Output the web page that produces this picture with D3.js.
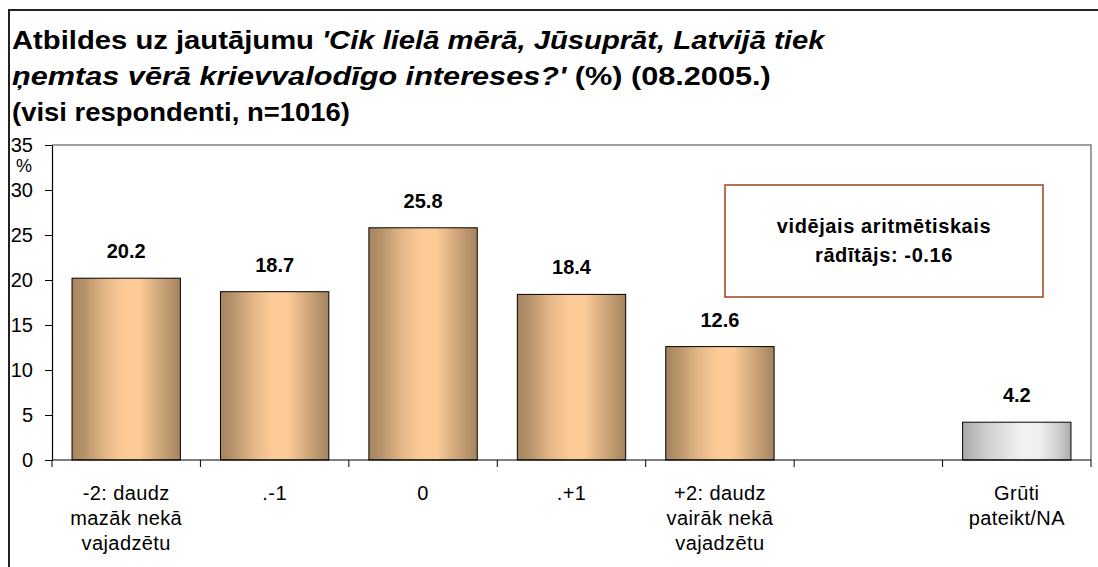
<!DOCTYPE html>
<html><head><meta charset="utf-8">
<script src="https://cdn.jsdelivr.net/npm/d3@7"></script>
<style>body{margin:0;background:#fff}svg{display:block}text{font-family:"Liberation Sans",Arial,sans-serif}</style>
</head><body><svg id="c" width="1098" height="567"></svg>
<script>
const categories = ["-2: daudz|mazāk nekā|vajadzētu", ".-1", "0", ".+1", "+2: daudz|vairāk nekā|vajadzētu", "", "Grūti|pateikt/NA"];
const values = [20.2, 18.7, 25.8, 18.4, 12.6, null, 4.2];
const barKinds = ["tan", "tan", "tan", "tan", "tan", null, "gray"];
const yTicks = [0, 5, 10, 15, 20, 25, 30, 35];
const titleLines = [
  [["Atbildes uz jautājumu ", false], ["'Cik lielā mērā, Jūsuprāt, Latvijā tiek", true]],
  [["ņemtas vērā krievvalodīgo intereses?'", true], [" (%) (08.2005.)", false]],
  [["(visi respondenti, n=1016)", false]]
];
const titleWidths = [814, 759, 338];
const noteLines = ["vidējais aritmētiskais", "rādītājs: -0.16"];

const svg = d3.select("#c");
const m = {left: 52, right: 1091, top: 145, bottom: 460};
const FONT = "Liberation Sans, Arial, sans-serif";

// outer chart border
svg.append("path").attr("d", `M9,567 V10 H1098`).attr("fill","none").attr("stroke","#222").attr("stroke-width",2);

// gradients
const defs = svg.append("defs");
const gT = defs.append("linearGradient").attr("id","gTan").attr("x1","0").attr("x2","1").attr("y1","0").attr("y2","0");
[[0,"#a5835d"],[0.12,"#b8946c"],[0.3,"#e3b687"],[0.48,"#fdcb98"],[0.62,"#fccb98"],[0.8,"#d1a87c"],[1,"#a5835d"]]
  .forEach(([o,c])=>gT.append("stop").attr("offset",o).attr("stop-color",c));
const gG = defs.append("linearGradient").attr("id","gGray").attr("x1","0").attr("x2","1").attr("y1","0").attr("y2","0");
[[0,"#a9a9a9"],[0.25,"#d2d2d2"],[0.55,"#f2f2f2"],[0.7,"#f0f0f0"],[0.88,"#cfcfcf"],[1,"#ababab"]]
  .forEach(([o,c])=>gG.append("stop").attr("offset",o).attr("stop-color",c));

const x = d3.scaleBand().domain(d3.range(categories.length)).range([m.left, m.right]).paddingInner(0.27).paddingOuter(0.135);
const xEdge = d3.scaleLinear().domain([0, categories.length]).range([m.left, m.right]);
const y = d3.scaleLinear().domain([0, 35]).range([m.bottom, m.top]);

// plot frame top/right
svg.append("path").attr("d", `M${m.left},${m.top} H${m.right} V${m.bottom}`).attr("fill","none").attr("stroke","#808080").attr("stroke-width",1.5);

// y axis
const yAxis = d3.axisLeft(y).tickValues(yTicks).tickSize(7).tickPadding(12).tickSizeOuter(0);
const gy = svg.append("g").attr("transform",`translate(${m.left},0)`).call(yAxis);
gy.select(".domain").attr("stroke","#000").attr("stroke-width",1.2);
gy.selectAll(".tick line").attr("stroke","#000");
gy.selectAll(".tick text").attr("font-size",20).attr("fill","#000").attr("font-family",FONT);
svg.append("text").attr("x", 24).attr("y", 172).attr("text-anchor","middle").attr("font-size",18).text("%");

// bars
const data = values.map((v,i)=>({i, v, kind: barKinds[i]})).filter(d=>d.v!=null);
svg.selectAll("rect.bar").data(data).enter().append("rect").attr("class","bar")
  .attr("x", d=>x(d.i)).attr("width", x.bandwidth())
  .attr("y", d=>y(d.v)).attr("height", d=>y(0)-y(d.v))
  .attr("fill", d=>d.kind==="gray"?"url(#gGray)":"url(#gTan)")
  .attr("stroke","#000").attr("stroke-width",1);

svg.selectAll("text.val").data(data).enter().append("text").attr("class","val")
  .attr("x", d=>x(d.i)+x.bandwidth()/2).attr("y", d=>y(d.v)-20)
  .attr("text-anchor","middle").attr("font-size",20).attr("font-weight","bold").text(d=>d.v.toFixed(1));

// x axis
svg.append("line").attr("x1",m.left).attr("x2",m.right).attr("y1",m.bottom).attr("y2",m.bottom).attr("stroke","#000").attr("stroke-width",1.2);
svg.selectAll("line.xt").data(d3.range(categories.length+1)).enter().append("line").attr("class","xt")
  .attr("x1",d=>xEdge(d)).attr("x2",d=>xEdge(d)).attr("y1",m.bottom).attr("y2",m.bottom+7).attr("stroke","#000");
categories.forEach((c,i)=>{
  const t = svg.append("text").attr("text-anchor","middle").attr("font-size",20).attr("letter-spacing",0.4).attr("fill","#000");
  c.split("|").forEach((ln,k)=>{
    if(!ln) return;
    t.append("tspan").attr("x", x(i)+x.bandwidth()/2).attr("y", 500+k*25).text(ln);
  });
});

// title
titleLines.forEach((parts,k)=>{
  const t = svg.append("text").attr("x",0).attr("y",0).attr("font-size",25).attr("font-weight","bold").attr("fill","#000");
  parts.forEach(([s,it])=>t.append("tspan").attr("font-style", it?"italic":"normal").text(s));
  const w = t.node().getBBox().width;
  t.attr("transform", `translate(12,${49+k*36}) scale(${titleWidths[k]/w},1)`);
});

// annotation box
svg.append("rect").attr("x",725).attr("y",185).attr("width",318).attr("height",112).attr("fill","#fff").attr("stroke","#a5401a").attr("stroke-width",1.5);
noteLines.forEach((s,k)=>svg.append("text").attr("x",884).attr("y",233+k*29).attr("text-anchor","middle").attr("font-size",20).attr("font-weight","bold").attr("letter-spacing",0.6).text(s));
</script></body></html>
